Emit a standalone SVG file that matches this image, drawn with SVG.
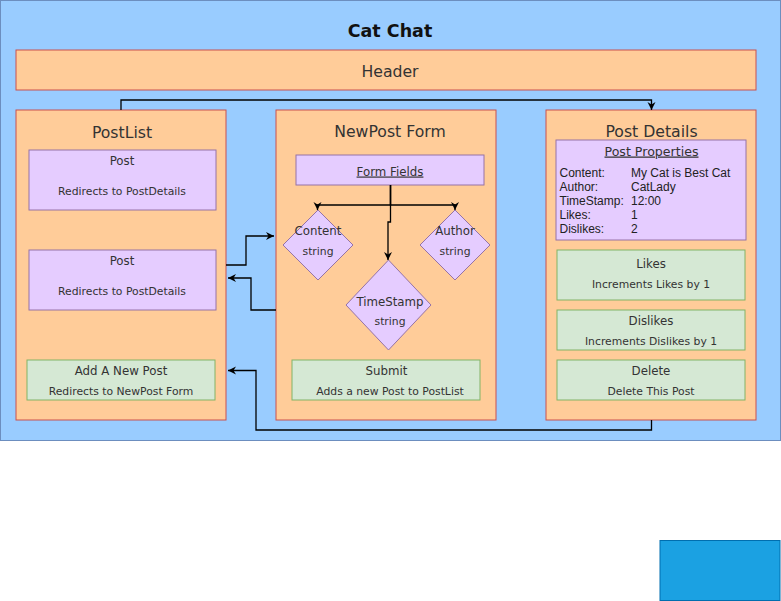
<svg xmlns="http://www.w3.org/2000/svg" width="781" height="601" viewBox="0 0 781 601">
<defs>
<style>
.org{fill:#FFCC99;stroke:#C9504E;stroke-width:1}
.pur{fill:#E5CCFF;stroke:#9673A6;stroke-width:1}
.grn{fill:#D5E8D4;stroke:#82B366;stroke-width:1}
text{font-family:"DejaVu Sans",Verdana,sans-serif;fill:#333333;text-anchor:middle}
.h{font-size:15.7px}
.t{font-size:11.8px}
.s{font-size:10.8px}
.p{font-family:"Liberation Sans",Arial,sans-serif;font-size:12px;text-anchor:start;fill:#222222}
.c{fill:none;stroke:#000000;stroke-width:1.3}
</style>
<marker id="ar" markerUnits="userSpaceOnUse" markerWidth="12" markerHeight="12" refX="8" refY="4" orient="auto">
<path d="M0,0 L8,4 L0,8 L2.5,4 Z" fill="#000000"/>
</marker>
</defs>
<rect width="781" height="601" fill="#FFFFFF"/>
<g id="container">
<rect x="0.5" y="0.5" width="780" height="440" fill="#99CCFF" stroke="#6C8EBF"/>
<text x="390" y="37" style="font-size:17.5px;font-weight:bold;fill:#111111">Cat Chat</text>
</g>
<g id="header">
<rect class="org" x="16" y="50" width="740" height="40"/>
<text class="h" x="390" y="77">Header</text>
</g>
<g id="postlist">
<rect class="org" x="16" y="110" width="210" height="310"/>
<text class="h" x="122" y="137.5">PostList</text>
</g>
<g id="post1">
<rect class="pur" x="29" y="150" width="187" height="60"/>
<text class="t" x="122" y="165">Post</text>
<text class="s" x="122" y="195">Redirects to PostDetails</text>
</g>
<g id="post2">
<rect class="pur" x="29" y="250" width="187" height="60"/>
<text class="t" x="122" y="265">Post</text>
<text class="s" x="122" y="295">Redirects to PostDetails</text>
</g>
<g id="addpost">
<rect class="grn" x="27" y="360" width="188" height="40"/>
<text class="t" x="121" y="375">Add A New Post</text>
<text class="s" x="121" y="395">Redirects to NewPost Form</text>
</g>
<g id="newpostform">
<rect class="org" x="276" y="110" width="220" height="310"/>
<text class="h" x="390" y="136.5">NewPost Form</text>
</g>
<g id="formfields">
<rect class="pur" x="296" y="155" width="188" height="30"/>
<text class="t" x="390" y="175.5" text-decoration="underline">Form Fields</text>
</g>
<g id="content">
<polygon class="pur" points="318,210 353,245 318,280 283,245"/>
<text class="t" x="318" y="235">Content</text>
<text class="s" x="318" y="255">string</text>
</g>
<g id="author">
<polygon class="pur" points="455,210 490,245 455,280 420,245"/>
<text class="t" x="455" y="235">Author</text>
<text class="s" x="455" y="255">string</text>
</g>
<g id="timestamp">
<polygon class="pur" points="388.5,260 431,305 388.5,350 346,305"/>
<text class="t" x="390" y="305.5">TimeStamp</text>
<text class="s" x="390" y="325">string</text>
</g>
<g id="submit">
<rect class="grn" x="292" y="360" width="188" height="40"/>
<text class="t" x="386.5" y="375">Submit</text>
<text class="s" x="390" y="395">Adds a new Post to PostList</text>
</g>
<g id="postdetails">
<rect class="org" x="546" y="110" width="210" height="310"/>
<text class="h" x="651.5" y="137">Post Details</text>
</g>
<g id="postproperties">
<rect class="pur" x="556" y="140" width="190" height="100"/>
<text x="651.5" y="155.5" style="font-size:12.6px" text-decoration="underline">Post Properties</text>
<text class="p" x="559.5" y="176.5">Content:</text>
<text class="p" x="631" y="176.5">My Cat is Best Cat</text>
<text class="p" x="559.5" y="190.5">Author:</text>
<text class="p" x="631" y="190.5">CatLady</text>
<text class="p" x="559.5" y="204.5">TimeStamp:</text>
<text class="p" x="631" y="204.5">12:00</text>
<text class="p" x="559.5" y="218.5">Likes:</text>
<text class="p" x="631" y="218.5">1</text>
<text class="p" x="559.5" y="232.5">Dislikes:</text>
<text class="p" x="631" y="232.5">2</text>
</g>
<g id="likes">
<rect class="grn" x="557" y="250" width="188" height="50"/>
<text class="t" x="651" y="267.5">Likes</text>
<text class="s" x="651" y="288">Increments Likes by 1</text>
</g>
<g id="dislikes">
<rect class="grn" x="557" y="310" width="188" height="40"/>
<text class="t" x="651" y="325">Dislikes</text>
<text class="s" x="651" y="345">Increments Dislikes by 1</text>
</g>
<g id="delete">
<rect class="grn" x="557" y="360" width="188" height="40"/>
<text class="t" x="651" y="375">Delete</text>
<text class="s" x="651" y="395">Delete This Post</text>
</g>
<g id="bluebox">
<rect x="660" y="540.5" width="120" height="60" fill="#1BA1E2" stroke="#006EAF"/>
</g>
<g id="connectors">
<path class="c" d="M121,110 V100 H651.5 V110" marker-end="url(#ar)"/>
<path class="c" d="M226,265 H246 V236 H274" marker-end="url(#ar)"/>
<path class="c" d="M276,310 H251 V278 H228" marker-end="url(#ar)"/>
<path class="c" d="M651.5,420 V430 H256 V370.5 H228" marker-end="url(#ar)"/>
<path class="c" d="M390.5,185 V205 H317.5 V210" marker-end="url(#ar)"/>
<path class="c" d="M390.5,185 V205 H455 V210" marker-end="url(#ar)"/>
<path class="c" d="M390.5,185 V222 H388 V260" marker-end="url(#ar)"/>
</g>
</svg>
